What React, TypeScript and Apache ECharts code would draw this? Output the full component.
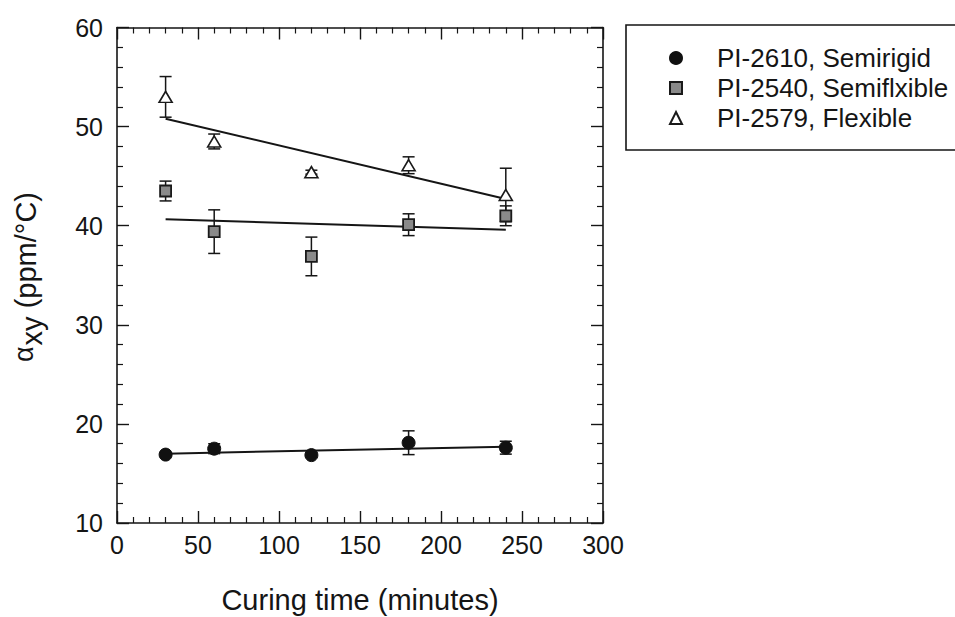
import React, { useEffect, useRef } from "react";
import * as echarts from "echarts";

// ---- data ----
const xValues = [30, 60, 120, 180, 240];

const semirigid = [16.9, 17.5, 16.85, 18.1, 17.6];
const semirigidErr = [0.2, 0.5, 0.2, 1.2, 0.65];

const semiflexible = [43.5, 39.4, 36.9, 40.1, 41.0];
const semiflexibleErr = [1.0, 2.2, 1.95, 1.1, 1.0];

const flexible = [53.0, 48.5, 45.4, 46.1, 43.1];
const flexibleErr = [2.05, 0.75, 0.2, 0.85, 2.7];

const fitX = [30, 240];
const semirigidFit = [17.0, 17.7];
const semiflexibleFit = [40.65, 39.6];
const flexibleFit = [50.8, 42.7];

const seriesNames = [
  "PI-2610, Semirigid",
  "PI-2540, Semiflxible",
  "PI-2579, Flexible",
];

const xTicks = { min: 0, max: 300, interval: 50 };
const yTicks = { min: 10, max: 60, interval: 10 };

const FONT = "'Liberation Sans', Arial, Helvetica, sans-serif";
const INK = "#151515";

function pts(xs: number[], ys: number[]) {
  return xs.map((x, i) => [x, ys[i]]);
}
function errs(xs: number[], ys: number[], es: number[]) {
  return xs.map((x, i) => [x, ys[i] - es[i], ys[i] + es[i]]);
}

const errRender = (params: any, api: any) => {
  const x = api.value(0);
  const lo = api.coord([x, api.value(1)]);
  const hi = api.coord([x, api.value(2)]);
  const w = 6;
  const st = { stroke: INK, lineWidth: 1.5 };
  return {
    type: "group",
    children: [
      { type: "line", shape: { x1: lo[0], y1: lo[1], x2: hi[0], y2: hi[1] }, style: st },
      { type: "line", shape: { x1: lo[0] - w, y1: lo[1], x2: lo[0] + w, y2: lo[1] }, style: st },
      { type: "line", shape: { x1: hi[0] - w, y1: hi[1], x2: hi[0] + w, y2: hi[1] }, style: st },
    ],
  };
};

export default function App() {
  const ref = useRef<HTMLDivElement>(null);
  useEffect(() => {
    if (!ref.current) return;
    const chart = echarts.init(ref.current, undefined, { renderer: "svg" });

    const axisCommon = {
      axisLine: { show: true, onZero: false, lineStyle: { color: INK, width: 1.6 } },
      axisTick: { show: true, inside: true, length: 12, lineStyle: { color: INK, width: 1.4 } },
      minorTick: { show: true, splitNumber: 5, length: 6, lineStyle: { color: INK, width: 1.2 } },
      splitLine: { show: false },
    };

    const errSeries = (name: string, ys: number[], es: number[]) => ({
      type: "custom",
      name,
      renderItem: errRender,
      encode: { x: 0, y: [1, 2] },
      data: errs(xValues, ys, es),
      z: 3,
      silent: true,
    });

    const fitSeries = (name: string, ys: number[]) => ({
      type: "line",
      name,
      data: pts(fitX, ys),
      showSymbol: false,
      symbol: "none",
      lineStyle: { color: INK, width: 2 },
      z: 2,
      silent: true,
    });

    chart.setOption({
      animation: false,
      backgroundColor: "#ffffff",
      grid: {
        left: 117,
        right: 352,
        top: 27.5,
        bottom: 94,
        containLabel: false,
        outerBoundsMode: "none",
      },
      xAxis: [
        {
          type: "value",
          position: "bottom",
          ...xTicks,
          ...axisCommon,
          axisLabel: { fontSize: 25, color: INK, fontFamily: FONT, margin: 9 },
          name: "Curing time (minutes)",
          nameLocation: "middle",
          nameGap: 62,
          nameTextStyle: { fontSize: 29, color: INK, fontFamily: FONT },
        },
        {
          type: "value",
          position: "top",
          ...xTicks,
          ...axisCommon,
          axisLabel: { show: false },
        },
      ],
      yAxis: [
        {
          type: "value",
          position: "left",
          ...yTicks,
          ...axisCommon,
          axisLabel: { fontSize: 25, color: INK, fontFamily: FONT, margin: 14 },
        },
        {
          type: "value",
          position: "right",
          ...yTicks,
          ...axisCommon,
          axisLabel: { show: false },
        },
      ],
      legend: {
        show: true,
        orient: "vertical",
        left: 669,
        top: 45,
        padding: 0,
        itemWidth: 12,
        itemHeight: 12,
        itemGap: 4,
        data: seriesNames,
        textStyle: { fontSize: 26, color: INK, fontFamily: FONT, padding: [0, 0, 0, 30] },
        selectedMode: false,
      },
      graphic: [
        {
          type: "rect",
          shape: { x: 626, y: 25, width: 400, height: 125 },
          style: { fill: "none", stroke: INK, lineWidth: 1.6 },
          silent: true,
        },
        {
          type: "text",
          x: 26,
          y: 277,
          rotation: Math.PI / 2,
          style: {
            text: "{a|α}{s|xy} (ppm/°C)",
            fontSize: 29,
            fill: INK,
            fontFamily: FONT,
            align: "center",
            verticalAlign: "middle",
            rich: {
              a: { fontSize: 27, fontFamily: FONT, fill: INK, padding: [0, 1, 4, 0] },
              s: { fontSize: 29, fontFamily: FONT, fill: INK, padding: [12, 0, 0, 0] },
            },
          },
        },
      ],
      series: [
        fitSeries("fit-semirigid", semirigidFit),
        fitSeries("fit-semiflexible", semiflexibleFit),
        fitSeries("fit-flexible", flexibleFit),
        errSeries("err-semirigid", semirigid, semirigidErr),
        errSeries("err-semiflexible", semiflexible, semiflexibleErr),
        errSeries("err-flexible", flexible, flexibleErr),
        {
          type: "scatter",
          name: seriesNames[0],
          data: pts(xValues, semirigid),
          symbol: "circle",
          symbolSize: 13,
          itemStyle: { color: "#111111", borderColor: "#111111", borderWidth: 1, opacity: 1 },
          z: 5,
        },
        {
          type: "scatter",
          name: seriesNames[1],
          data: pts(xValues, semiflexible),
          symbol: "rect",
          symbolSize: 11,
          itemStyle: { color: "#8a8a8a", borderColor: "#1a1a1a", borderWidth: 1.8, opacity: 1 },
          z: 5,
        },
        {
          type: "scatter",
          name: seriesNames[2],
          data: pts(xValues, flexible),
          symbol: "triangle",
          symbolSize: [13, 11],
          itemStyle: { color: "#ffffff", borderColor: "#1a1a1a", borderWidth: 1.6, opacity: 1 },
          z: 5,
        },
      ],
    });

    return () => chart.dispose();
  }, []);

  return (
    <div
      ref={ref}
      style={{ position: "absolute", left: 0, top: 0, width: 955, height: 617, background: "#fff" }}
    />
  );
}
